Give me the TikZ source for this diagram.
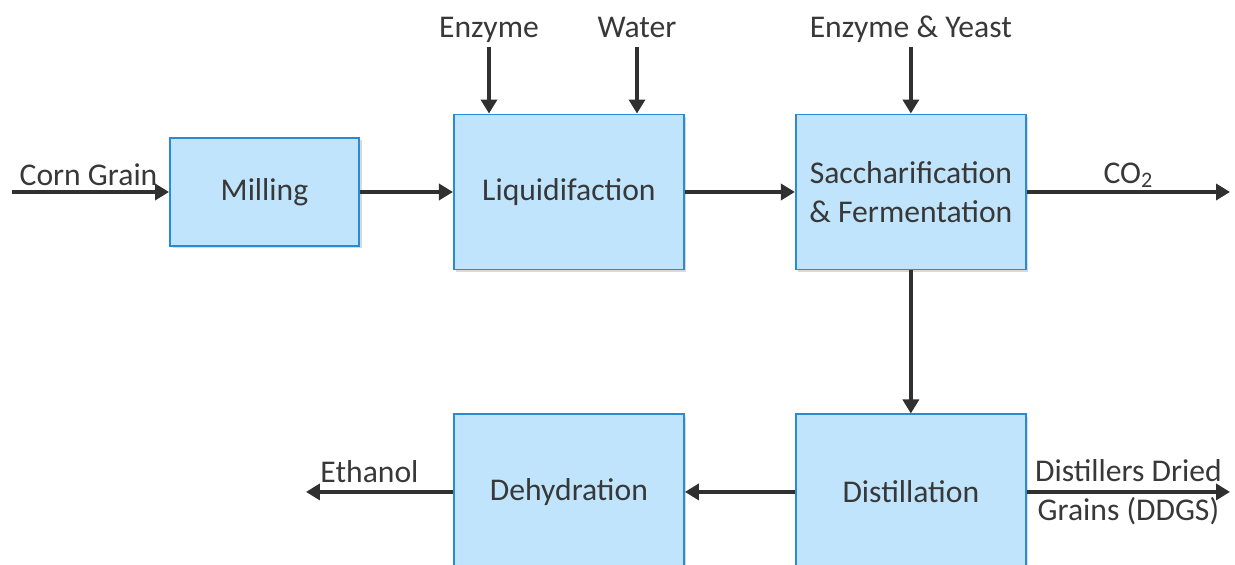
\documentclass[tikz,border=0pt]{standalone}
\usepackage{fontspec}
\setmainfont{Carlito}
\usetikzlibrary{positioning, arrows.meta, calc, shadows}
\definecolor{boxfill}{HTML}{BFE4FC}
\definecolor{boxline}{HTML}{2A8AD4}
\definecolor{txtgray}{HTML}{383838}
\definecolor{arrowgray}{HTML}{303030}

\begin{document}
\begin{tikzpicture}[
		node distance=2.86cm and 2.2cm,
		font=\fontsize{18}{22}\selectfont, text=txtgray,
		% --- styles ---
		procblock/.style={
			rectangle, draw=boxline, line width=1.1pt, fill=boxfill,
			drop shadow={opacity=0.3, shadow xshift=0.05cm, shadow yshift=-0.05cm},
			minimum width=4.6cm, minimum height=3.1cm, align=center
		},
		line/.style={
			draw=arrowgray, line width=2.3pt, -{Triangle[length=0.28cm, width=0.32cm]}
		},
		flowlabel/.style={
			inner sep=3pt, align=center, text height=0.7em, text depth=0.22em
		}
	]
	
	\useasboundingbox (0,0) rectangle (24.7,-11.3);
	
	% ==========================================
	% 1. Process blocks
	% ==========================================
	\node [procblock, minimum width=3.78cm, minimum height=2.16cm] (milling) at (5.29,-3.84) {Milling};
	\node [procblock, right=1.86cm of milling] (liquid) {Liquidifaction};
	\node [procblock, right=of liquid] (sacch) {Saccharification\\\& Fermentation};
	\node [procblock, below=of sacch] (distill) {Distillation};
	\node [procblock, left=of distill] (dehyd) {Dehydration};
	
	% ==========================================
	% 2. Feeds from the top
	% ==========================================
	\node [flowlabel] (enzyme) at (9.78,-0.66) {Enzyme};
	\node [flowlabel] (water) at (12.74,-0.66) {Water};
	\node [flowlabel] (yeast) at (sacch.center |- enzyme) {Enzyme \& Yeast};
	\draw [line] (enzyme) -- (enzyme |- liquid.north);
	\draw [line] (water) -- (water |- liquid.north);
	\draw [line] (yeast) -- (sacch);
	
	% ==========================================
	% 3. Main line
	% ==========================================
	\coordinate (cornin) at (0.24,-3.84);
	\coordinate (co2out) at (24.6,-3.84);
	\draw [line] (cornin) -- node[flowlabel, above, xshift=-0.04cm, yshift=-0.09cm] {Corn Grain} (milling);
	\draw [line] (milling) -- (liquid);
	\draw [line] (liquid) -- (sacch);
	\draw [line] (sacch) -- node[flowlabel, above, yshift=-0.05cm] {CO\textsubscript{2}} (co2out);
	\draw [line] (sacch) -- (distill);
	
	% ==========================================
	% 4. Products
	% ==========================================
	\coordinate (ethout) at ($(dehyd.west)+(-2.94,0)$);
	\coordinate (ddgsout) at (co2out |- distill);
	\draw [line] (distill) -- (dehyd);
	\draw [line] (dehyd) -- node[flowlabel, above, xshift=-0.2cm, yshift=-0.04cm] {Ethanol} (ethout);
	\draw [line] (distill) -- node[align=center] {Distillers Dried\\Grains (DDGS)} (ddgsout);
	
\end{tikzpicture}
\end{document}
